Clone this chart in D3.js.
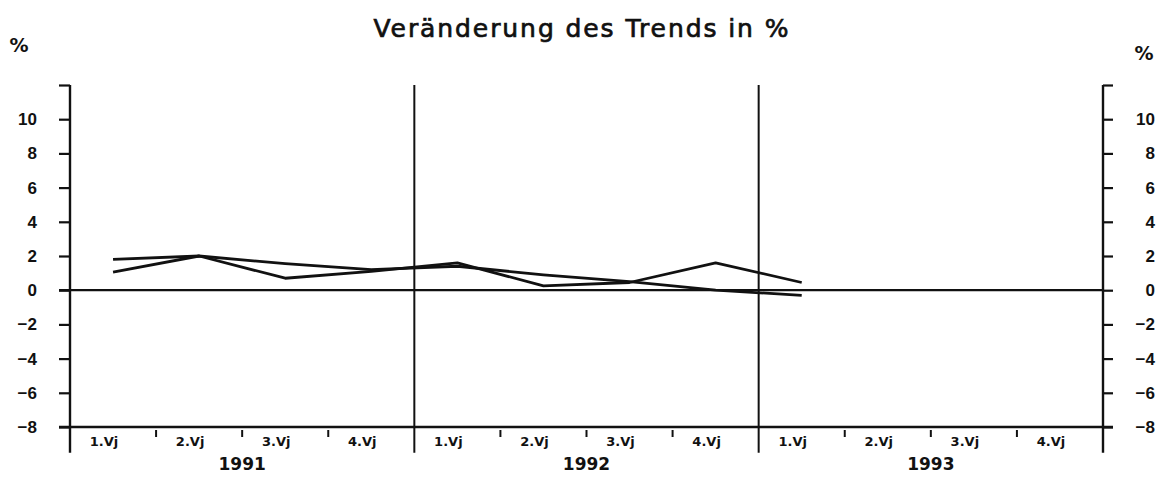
<!DOCTYPE html>
<html>
<head>
<meta charset="utf-8">
<script src="https://cdn.jsdelivr.net/npm/d3@7"></script>
<style>
  body { margin: 0; background: #fff; }
  text { fill: #111; }
</style>
</head>
<body>
<div id="vis"></div>
<script>
// Data (quarterly trend change in %)
let years = ['1991', '1992', '1993'];
let quarterLabels = ['1.Vj', '2.Vj', '3.Vj', '4.Vj'];
let yTicks = [-8, -6, -4, -2, 0, 2, 4, 6, 8, 10];
// smooth, slowly falling series
let trendA = [1.8, 2.0, 1.55, 1.2, 1.4, 0.9, 0.5, 0.0, -0.3];
// wavier series
let trendB = [1.05, 2.0, 0.7, 1.1, 1.6, 0.25, 0.45, 1.6, 0.45];

let width = 1163,
    height = 481;

let svg = d3.select('#vis')
            .append('svg')
            .attr('width', width)
            .attr('height', height)
            .style('font-family', 'DejaVu Sans')
            .style('background', '#fff');

// x runs over 12 quarters, y from -8 up to 12
let xScale = d3.scaleLinear()
    .domain([0, 12])
    .range([70, 1103]);

let yScale = d3.scaleLinear()
    .domain([-8, 12])
    .range([427, 85]);

let ink = '#111';
let yBottom = yScale(-9.5);

// Left axis
let leftAxis = svg.append('g')
    .attr('transform', `translate(${xScale(0)}, 0)`)
    .call(d3.axisLeft(yScale).tickValues(yTicks.concat([12])).tickSize(11).tickPadding(22)
      .tickFormat(d => d === 12 ? '' : d3.format('d')(d)));
leftAxis.select('.domain').remove();
leftAxis.selectAll('line').attr('stroke', ink).attr('stroke-width', 2.2);
leftAxis.selectAll('text')
    .style('font-size', '17px')
    .style('font-weight', 'bold')
    .attr('fill', ink);

// Right axis
let rightAxis = svg.append('g')
    .attr('transform', `translate(${xScale(12)}, 0)`)
    .call(d3.axisRight(yScale).tickValues(yTicks.concat([12])).tickSize(10).tickPadding(42)
      .tickFormat(d => d === 12 ? '' : d3.format('d')(d)));
rightAxis.select('.domain').remove();
rightAxis.selectAll('line').attr('stroke', ink).attr('stroke-width', 2.2);
rightAxis.selectAll('text')
    .attr('text-anchor', 'end')
    .style('font-size', '17px')
    .style('font-weight', 'bold')
    .attr('fill', ink);

// vertical lines: both axes and the year separators
svg.selectAll('line.vert')
    .data([0, 4, 8, 12])
    .enter()
    .append('line')
    .attr('class', 'vert')
    .attr('x1', d => xScale(d))
    .attr('x2', d => xScale(d))
    .attr('y1', yScale(12))
    .attr('y2', yBottom)
    .attr('stroke', ink)
    .attr('stroke-width', d => (d === 0 || d === 12) ? 2.4 : 2);

// zero line and the -8 base line
svg.append('line')
    .attr('x1', xScale(0) - 11).attr('x2', xScale(12))
    .attr('y1', yScale(0)).attr('y2', yScale(0))
    .attr('stroke', ink).attr('stroke-width', 2.2);

svg.append('line')
    .attr('x1', xScale(0) - 11).attr('x2', xScale(12) + 10)
    .attr('y1', yScale(-8)).attr('y2', yScale(-8))
    .attr('stroke', ink).attr('stroke-width', 2.4);

// small quarter ticks below the base line
let quarterBounds = d3.range(1, 12).filter(d => d % 4 !== 0);
svg.selectAll('line.qtick')
    .data(quarterBounds)
    .enter()
    .append('line')
    .attr('class', 'qtick')
    .attr('x1', d => xScale(d))
    .attr('x2', d => xScale(d))
    .attr('y1', yScale(-8) + 3)
    .attr('y2', yScale(-8) + 10)
    .attr('stroke', ink)
    .attr('stroke-width', 2);

// quarter labels
let quarters = d3.range(12).map(i => ({i: i, label: quarterLabels[i % 4]}));
svg.selectAll('text.qlab')
    .data(quarters)
    .enter()
    .append('text')
    .attr('class', 'qlab')
    .attr('x', d => xScale(d.i + 0.5) - 9)
    .attr('y', yScale(-8) + 19)
    .attr('text-anchor', 'middle')
    .style('font-size', '13px')
    .style('font-weight', 'bold')
    .text(d => d.label);

// year labels
svg.selectAll('text.ylab')
    .data(years)
    .enter()
    .append('text')
    .attr('class', 'ylab')
    .attr('x', (d, i) => xScale(i * 4 + 2))
    .attr('y', 470)
    .attr('text-anchor', 'middle')
    .style('font-size', '17px')
    .style('font-weight', 'bold')
    .text(d => d);

// data lines
let line = d3.line()
    .x((d, i) => xScale(i + 0.5))
    .y(d => yScale(d));

[trendA, trendB].forEach(series => {
  svg.append('path')
      .datum(series)
      .attr('d', line)
      .attr('fill', 'none')
      .attr('stroke', ink)
      .attr('stroke-width', 2.8)
      .attr('stroke-linejoin', 'round');
});

// title and unit labels
svg.append('text')
    .attr('x', 581)
    .attr('y', 37)
    .attr('text-anchor', 'middle')
    .attr('textLength', 415)
    .attr('lengthAdjust', 'spacing')
    .style('font-size', '25px')
    .style('font-weight', 'normal')
    .style('stroke', ink)
    .style('stroke-width', 0.7)
    .text('Veränderung des Trends in %');

svg.append('text')
    .attr('x', 19)
    .attr('y', 52)
    .attr('text-anchor', 'middle')
    .style('font-size', '19px')
    .style('font-weight', 'bold')
    .text('%');

svg.append('text')
    .attr('x', 1144)
    .attr('y', 60)
    .attr('text-anchor', 'middle')
    .style('font-size', '19px')
    .style('font-weight', 'bold')
    .text('%');
</script>
</body>
</html>
